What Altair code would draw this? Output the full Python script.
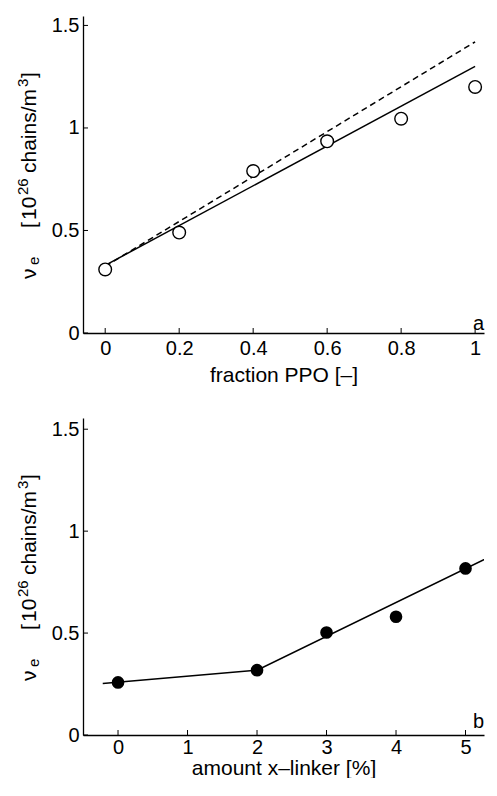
import altair as alt
import pandas as pd

# ---- data ----
ppo = [0.0, 0.2, 0.4, 0.6, 0.8, 1.0]
ve_ppo = [0.31, 0.49, 0.79, 0.935, 1.045, 1.20]
fit_solid_x = [0.0, 1.0]
fit_solid_y = [0.33, 1.30]
fit_dash_x = [0.0, 1.0]
fit_dash_y = [0.325, 1.42]

xlinker = [0, 2, 3, 4, 5]
ve_xl = [0.258, 0.318, 0.503, 0.58, 0.817]
fit_b_x = [-0.22, 2.0, 5.33]
fit_b_y = [0.253, 0.318, 0.871]

xticks_a = [0, 0.2, 0.4, 0.6, 0.8, 1.0]
xticks_b = [0, 1, 2, 3, 4, 5]
yticks = [0, 0.5, 1.0, 1.5]

W = 401
FONT = "Liberation Sans"
LBL = 20
TTL = 21
SUB = 15

# y-title pieces: (text, font size, baseline x from axis, start y from plot top)
TITLE_PIECES = [
    ("ν", TTL, -47.5, 263),
    ("e", SUB, -44.5, 249),
    ("[", TTL, -47.5, 212),
    ("10", TTL, -47.5, 204),
    ("26", SUB, -55.5, 179),
    ("chains/m", TTL, -47.5, 157),
    ("3", SUB, -55.5, 71),
    ("]", TTL, -47.5, 62),
]

def title_layers():
    out = []
    for txt, fs, bx, sy in TITLE_PIECES:
        out.append(
            alt.Chart(pd.DataFrame({"t": [txt]})).mark_text(
                font=FONT, fontSize=fs, angle=270, align="left",
                baseline="alphabetic", color="black")
            .encode(text="t:N", x=alt.value(bx), y=alt.value(sy))
        )
    return out

def panel(pts, filled, lines, xdom, ydom, xt, xtitle, letter, letter_dy, H, lpad, tpad):
    xs = alt.Scale(domain=xdom, nice=False, zero=False)
    ys = alt.Scale(domain=ydom, nice=False, zero=False)
    xax = alt.Axis(values=xt, format="~g", title=xtitle, labelPadding=lpad, titlePadding=tpad)
    yax = alt.Axis(values=yticks, format="~g", title=None)
    layers = []
    for lx, ly, dash in lines:
        d = pd.DataFrame({"x": lx, "y": ly})
        layers.append(
            alt.Chart(d).mark_line(color="black", strokeWidth=1.5, clip=True,
                                   **({"strokeDash": [6, 4]} if dash else {}))
            .encode(x=alt.X("x:Q", scale=xs, axis=xax), y=alt.Y("y:Q", scale=ys, axis=yax))
        )
    pd_ = pd.DataFrame({"x": pts[0], "y": pts[1]})
    layers.append(
        alt.Chart(pd_).mark_point(shape="circle", size=160, strokeWidth=1.4,
                                  color="black", filled=filled,
                                  fill="black" if filled else "white", opacity=1)
        .encode(x=alt.X("x:Q", scale=xs), y=alt.Y("y:Q", scale=ys))
    )
    # inward ticks
    layers.append(
        alt.Chart(pd.DataFrame({"t": xt})).mark_rule(color="black", strokeWidth=1)
        .encode(x=alt.X("t:Q", scale=xs), y=alt.value(H), y2=alt.value(H - 5))
    )
    layers.append(
        alt.Chart(pd.DataFrame({"t": yticks})).mark_rule(color="black", strokeWidth=1)
        .encode(y=alt.Y("t:Q", scale=ys), x=alt.value(0), x2=alt.value(5))
    )
    layers.append(
        alt.Chart(pd.DataFrame({"l": [letter]})).mark_text(
            font=FONT, fontSize=LBL, align="right", baseline="alphabetic", color="black")
        .encode(text="l:N", x=alt.value(W), y=alt.value(H - letter_dy))
    )
    layers += title_layers()
    return alt.layer(*layers).properties(width=W, height=H)

top = panel((ppo, ve_ppo), False,
            [(fit_dash_x, fit_dash_y, True), (fit_solid_x, fit_solid_y, False)],
            [-0.06, 1.024], [0, 1.546], xticks_a, "fraction PPO [–]", "a", 3,
            317, 5, 6)
bot = panel((xlinker, ve_xl), True,
            [(fit_b_x, fit_b_y, False)],
            [-0.504, 5.266], [0, 1.555], xticks_b, "amount x–linker [%]", "b", 7,
            317, 2, 0)

chart = alt.vconcat(top, bot, spacing=33).properties(
    padding={"top": 7, "left": 7, "right": 0, "bottom": 0}
).configure_view(stroke=None).configure_axis(
    domainColor="black", domainWidth=1.3, ticks=False, grid=False,
    labelFont=FONT, labelFontSize=LBL, labelColor="black",
    titleFont=FONT, titleFontSize=21, titleFontWeight="normal", titleColor="black",
).configure_axisY(labelPadding=4)

chart.save("out.html", embed_options={"renderer": "svg", "actions": False})
